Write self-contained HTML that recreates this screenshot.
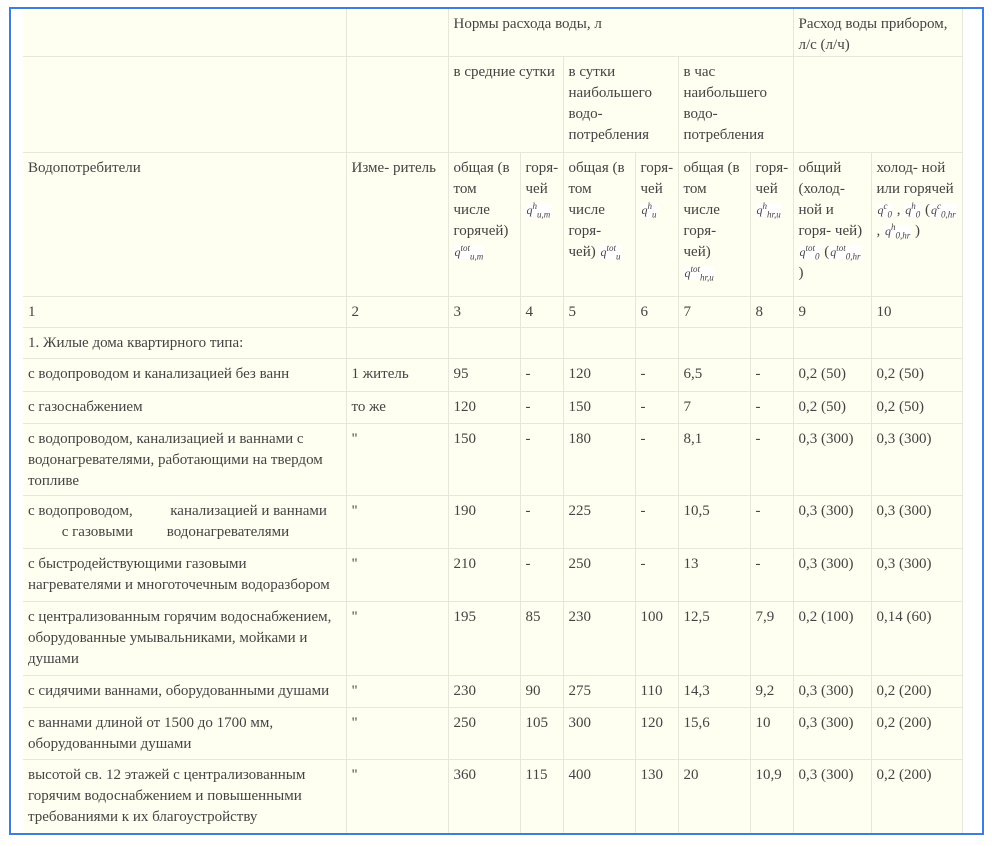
<!DOCTYPE html>
<html><head><meta charset="utf-8">
<style>
html,body{margin:0;padding:0;background:#fff;width:992px;height:846px;overflow:hidden}
.frame{position:absolute;left:9px;top:7px;width:975px;height:828px;border:2px solid #3c7ddf;box-sizing:border-box;background:#fff}
table{position:absolute;left:23px;top:9px;border-collapse:collapse;table-layout:fixed;background:#fefef1;
font-family:"Liberation Serif",serif;font-size:15px;color:#444;line-height:21px}
td{border:1px solid #e6e6da;vertical-align:top;padding:5px 4px 0 5px;overflow:hidden}
table tr:first-child td{border-top:none}
table td:first-child{border-left:none}
.f{font-style:italic;font-size:12px;display:inline-block;line-height:11px;vertical-align:middle;background:#fff;padding:1px}
.f sup,.f sub{font-size:9px;line-height:0}
</style></head><body>
<div class="frame"></div>
<table>
<colgroup><col style="width:323px"><col style="width:102px"><col style="width:72px"><col style="width:43px"><col style="width:72px"><col style="width:43px"><col style="width:72px"><col style="width:43px"><col style="width:78px"><col style="width:91px"></colgroup>
<tr style="height:47px"><td></td><td></td><td colspan="6">Нормы расхода воды, л</td><td colspan="2">Расход воды прибором, л/с (л/ч)</td></tr>
<tr style="height:96px"><td></td><td></td><td colspan="2">в средние сутки</td><td colspan="2">в сутки наибольшего водо-потребления</td><td colspan="2">в час наибольшего водо-потребления</td><td colspan="2"></td></tr>
<tr style="height:144px"><td>Водопотребители</td><td>Изме- ритель</td>
<td>общая (в том числе горячей) <span class="f">q<sup>tot</sup><sub>u,m</sub></span></td>
<td>горя-<br>чей <span class="f">q<sup>h</sup><sub>u,m</sub></span></td>
<td>общая (в том числе горя-<br>чей) <span class="f">q<sup>tot</sup><sub>u</sub></span></td>
<td>горя-<br>чей <span class="f">q<sup>h</sup><sub>u</sub></span></td>
<td>общая (в том числе горя-<br>чей) <span class="f">q<sup>tot</sup><sub>hr,u</sub></span></td>
<td>горя-<br>чей <span class="f">q<sup>h</sup><sub>hr,u</sub></span></td>
<td>общий (холод-ной и горя- чей) <span class="f">q<sup>tot</sup><sub>0</sub></span> (<span class="f">q<sup>tot</sup><sub>0,hr</sub></span> )</td>
<td>холод- ной или горячей <span class="f">q<sup>c</sup><sub>0</sub></span> , <span class="f">q<sup>h</sup><sub>0</sub></span> (<span class="f">q<sup>c</sup><sub>0,hr</sub></span> , <span class="f">q<sup>h</sup><sub>0,hr</sub></span> )</td></tr>
<tr style="height:31px"><td>1</td><td>2</td><td>3</td><td>4</td><td>5</td><td>6</td><td>7</td><td>8</td><td>9</td><td>10</td></tr>
<tr style="height:31px"><td>1. Жилые дома квартирного типа:</td><td></td><td></td><td></td><td></td><td></td><td></td><td></td><td></td><td></td></tr>
<tr style="height:33px"><td>с водопроводом и канализацией без ванн</td><td>1 житель</td><td>95</td><td>-</td><td>120</td><td>-</td><td>6,5</td><td>-</td><td>0,2 (50)</td><td>0,2 (50)</td></tr>
<tr style="height:32px"><td>с газоснабжением</td><td>то же</td><td>120</td><td>-</td><td>150</td><td>-</td><td>7</td><td>-</td><td>0,2 (50)</td><td>0,2 (50)</td></tr>
<tr style="height:72px"><td>с водопроводом, канализацией и ваннами с водонагревателями, работающими на твердом топливе</td><td>"</td><td>150</td><td>-</td><td>180</td><td>-</td><td>8,1</td><td>-</td><td>0,3 (300)</td><td>0,3 (300)</td></tr>
<tr style="height:53px"><td>с водопроводом,&nbsp;&nbsp;&nbsp;&nbsp;&nbsp;&nbsp;&nbsp;&nbsp;&nbsp; канализацией и ваннами<br>&nbsp;&nbsp;&nbsp;&nbsp;&nbsp;&nbsp;&nbsp;&nbsp; с газовыми&nbsp;&nbsp;&nbsp;&nbsp;&nbsp;&nbsp;&nbsp;&nbsp; водонагревателями</td><td>"</td><td>190</td><td>-</td><td>225</td><td>-</td><td>10,5</td><td>-</td><td>0,3 (300)</td><td>0,3 (300)</td></tr>
<tr style="height:53px"><td>с быстродействующими газовыми нагревателями и многоточечным водоразбором</td><td>"</td><td>210</td><td>-</td><td>250</td><td>-</td><td>13</td><td>-</td><td>0,3 (300)</td><td>0,3 (300)</td></tr>
<tr style="height:74px"><td>с централизованным горячим водоснабжением, оборудованные умывальниками, мойками и душами</td><td>"</td><td>195</td><td>85</td><td>230</td><td>100</td><td>12,5</td><td>7,9</td><td>0,2 (100)</td><td>0,14 (60)</td></tr>
<tr style="height:32px"><td>с сидячими ваннами, оборудованными душами</td><td>"</td><td>230</td><td>90</td><td>275</td><td>110</td><td>14,3</td><td>9,2</td><td>0,3 (300)</td><td>0,2 (200)</td></tr>
<tr style="height:52px"><td>с ваннами длиной от 1500 до 1700 мм, оборудованными душами</td><td>"</td><td>250</td><td>105</td><td>300</td><td>120</td><td>15,6</td><td>10</td><td>0,3 (300)</td><td>0,2 (200)</td></tr>
<tr style="height:73px"><td style="border-bottom:none">высотой св. 12 этажей с централизованным горячим водоснабжением и повышенными требованиями к их благоустройству</td><td style="border-bottom:none">"</td><td style="border-bottom:none">360</td><td style="border-bottom:none">115</td><td style="border-bottom:none">400</td><td style="border-bottom:none">130</td><td style="border-bottom:none">20</td><td style="border-bottom:none">10,9</td><td style="border-bottom:none">0,3 (300)</td><td style="border-bottom:none">0,2 (200)</td></tr>
</table>
</body></html>
